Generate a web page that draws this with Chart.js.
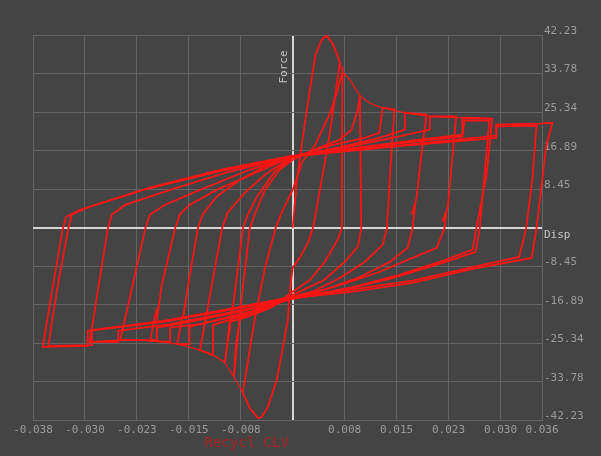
<!DOCTYPE html>
<html>
<head>
<meta charset="utf-8">
<script src="https://cdn.jsdelivr.net/npm/chart.js@4/dist/chart.umd.min.js"></script>
<style>
  html, body { margin: 0; padding: 0; background: #444444; }
  #wrap { position: relative; width: 601px; height: 456px; }
</style>
</head>
<body>
<div id="wrap"><canvas id="c" width="601" height="456"></canvas></div>
<script>
// Axis ticks (displacement on x, force on y)
const dispTicks = [-0.0375, -0.03, -0.0225, -0.015, -0.0075, 0, 0.0075, 0.015, 0.0225, 0.03, 0.036];
const dispTickLabels = ['-0.038', '-0.030', '-0.023', '-0.015', '-0.008', '', '0.008', '0.015', '0.023', '0.030', '0.036'];
const forceTicks = [-42.23, -33.784, -25.338, -16.892, -8.446, 0, 8.446, 16.892, 25.338, 33.784, 42.23];
const forceTickLabels = ['-42.23', '-33.78', '-25.34', '-16.89', '-8.45', '', '8.45', '16.89', '25.34', '33.78', '42.23'];

// Hysteresis loops, one cycle each: displacement / force
const dispA = [0, 0.0006, 0.0014, 0.0025, 0.0033, 0.0042, 0.0049, 0.0058, 0.0063, 0.0068, 0.0053, 0.0040, 0.0029, 0.0022, 0.0010, 0, -0.0004, -0.0007, -0.0014, -0.0023, -0.0036, -0.0045, -0.0050, -0.0056, -0.0062, -0.0072, -0.0055, -0.0040, -0.0025, -0.0016, -0.0007, 0];
const forceA = [0, 10.3, 19.3, 30.3, 38.0, 41.2, 42.1, 40.2, 38.4, 36.2, 20.0, 8.8, -0.2, -3.3, -6.6, -8.8, -13.6, -20.2, -26.1, -33.3, -39.3, -41.5, -41.7, -40.6, -39.5, -36.2, -20.2, -8.8, -0.2, 3.3, 6.1, 8.3];

const dispB = [0, 0.0014, 0.0032, 0.0053, 0.0063, 0.0072, 0.0071, 0.0071, 0.0065, 0.0046, 0.0025, 0, -0.0026, -0.0076, -0.0082, -0.0085, -0.0074, -0.0062, -0.0055, -0.0040, -0.0019, 0];
const forceB = [8.3, 14.5, 18.0, 24.8, 29.2, 34.2, 17.1, -0.2, -2.6, -7.5, -11.4, -14.0, -16.9, -19.7, -25.7, -32.7, -15.8, -0.2, 2.9, 8.3, 12.7, 14.9];

const dispC = [0, 0.0039, 0.0068, 0.0085, 0.0094, 0.0097, 0.0098, 0.0099, 0.0094, 0.0075, 0.0046, 0, -0.0033, -0.0069, -0.0091, -0.0094, -0.0098, -0.0085, -0.0072, -0.0065, -0.0050, -0.0026, 0];
const forceC = [14.9, 17.6, 19.3, 21.5, 25.9, 29.0, 14.9, -0.2, -4.2, -7.5, -11.4, -14.7, -17.6, -19.7, -20.6, -24.6, -29.6, -15.8, -0.2, 2.9, 7.2, 12.3, 15.4];

const dispD = [0, 0.0053, 0.0104, 0.0125, 0.0130, 0.0147, 0.0141, 0.0136, 0.0130, 0.0104, 0.0068, 0.0029, 0, -0.0048, -0.0091, -0.0115, -0.0115, -0.0134, -0.0118, -0.0102, -0.0094, -0.0069, -0.0040, 0];
const forceD = [15.4, 18.0, 19.7, 20.8, 26.3, 25.9, 12.7, -0.2, -3.7, -7.5, -11.0, -14.0, -15.1, -18.0, -20.2, -21.3, -27.9, -26.8, -13.6, -0.2, 3.3, 7.7, 11.6, 15.6];

const dispE = [0, 0.0068, 0.0125, 0.0162, 0.0162, 0.0193, 0.0185, 0.0179, 0.0172, 0.0177, 0.0173, 0.0166, 0.0140, 0.0097, 0.0053, 0, -0.0062, -0.0120, -0.0149, -0.0149, -0.0167, -0.0160, -0.0155, -0.0158, -0.0151, -0.0137, -0.0130, -0.0110, -0.0076, -0.0040, 0];
const forceE = [15.6, 17.6, 19.7, 21.5, 25.2, 24.8, 14.9, 6.6, 2.9, 5.5, -0.2, -4.4, -7.5, -10.8, -13.2, -15.4, -18.4, -20.6, -21.7, -25.5, -25.5, -20.4, -16.9, -19.5, -12.5, -0.2, 2.9, 6.8, 10.5, 13.4, 15.6];

const dispF = [0, 0.0082, 0.0154, 0.0198, 0.0198, 0.0236, 0.0229, 0.0224, 0.0216, 0.0222, 0.0219, 0.0208, 0.0173, 0.0125, 0.0078, 0.0029, 0, -0.0069, -0.0134, -0.0177, -0.0177, -0.0206, -0.0199, -0.0194, -0.0197, -0.0189, -0.0170, -0.0163, -0.0149, -0.0110, -0.0043, 0];
const forceF = [15.6, 17.8, 20.0, 21.5, 24.4, 24.4, 12.7, 4.6, 1.3, 3.5, -0.2, -4.4, -6.6, -9.7, -12.1, -14.3, -15.4, -18.9, -21.1, -21.9, -25.0, -24.8, -19.3, -17.3, -20.9, -12.5, -0.2, 2.9, 5.0, 8.3, 12.7, 15.6];

const dispG = [0, 0.0097, 0.0183, 0.0245, 0.0245, 0.0288, 0.0280, 0.0265, 0.0260, 0.0212, 0.0154, 0.0082, 0, -0.0076, -0.0149, -0.0196, -0.0196, -0.0249, -0.0231, -0.0213, -0.0206, -0.0185, -0.0134, -0.0062, 0];
const forceG = [15.6, 17.6, 19.3, 20.4, 24.1, 23.9, 11.6, -0.2, -4.8, -7.5, -10.3, -13.2, -15.4, -18.4, -20.6, -21.9, -24.6, -24.6, -12.5, -0.2, 2.9, 5.0, 8.3, 12.7, 15.6];

const dispG2 = [0, 0.0125, 0.0245, 0.0248, 0.0284, 0.0277, 0.0270, 0.0264, 0.0212, 0.0140, 0.0068, 0, -0.0091, -0.0177, -0.0252, -0.0252, -0.0293, -0.0280, -0.0267, -0.0261, -0.0242, -0.0177, -0.0091, 0];
const forceG2 = [15.6, 18.0, 20.0, 23.5, 23.5, 11.6, -0.2, -5.3, -7.9, -11.2, -13.8, -15.6, -18.6, -21.1, -22.6, -25.0, -25.0, -12.5, -0.2, 2.9, 5.0, 8.3, 12.3, 15.6];

const dispH = [0, 0.0144, 0.0294, 0.0294, 0.0356, 0.0375, 0.0366, 0.0352, 0.0345, 0.0260, 0.0173, 0.0087, 0, -0.0091, -0.0187, -0.0296, -0.0296, -0.0361, -0.0346, -0.0332, -0.0327, -0.0307, -0.0216, -0.0108, 0];
const forceH = [15.6, 17.8, 19.7, 22.6, 22.8, 23.0, 17.8, -0.2, -6.6, -9.0, -12.1, -14.0, -15.4, -18.0, -20.6, -22.6, -25.9, -26.1, -12.5, -0.2, 2.4, 3.9, 8.3, 12.3, 15.6];

const dispI = [0, 0.0154, 0.0294, 0.0294, 0.0352, 0.0346, 0.0337, 0.0327, 0.0255, 0.0173, 0.0082, 0, -0.0091, -0.0187, -0.0290, -0.0290, -0.0353, -0.0339, -0.0324, -0.0319, -0.0293, -0.0206, -0.0105, 0];
const forceI = [15.8, 18.0, 20.2, 22.2, 22.4, 10.5, -0.2, -6.4, -8.8, -11.6, -13.6, -15.1, -17.8, -20.4, -22.4, -25.7, -25.9, -12.5, -0.2, 2.9, 4.6, 8.8, 12.7, 15.8];

// Peak-force envelopes traced by the first excursions on each side
const dispUpperEnv = [0.0049, 0.0058, 0.0063, 0.0068, 0.0072, 0.0082, 0.0097, 0.0111, 0.0130, 0.0162, 0.0198, 0.0241, 0.0288];
const forceUpperEnv = [42.1, 40.2, 38.4, 36.2, 34.2, 32.5, 29.0, 27.4, 26.3, 25.2, 24.4, 24.1, 23.9];
const dispLowerEnv = [-0.0050, -0.0062, -0.0072, -0.0085, -0.0098, -0.0115, -0.0134, -0.0167, -0.0206, -0.0249, -0.0293];
const forceLowerEnv = [-41.7, -39.5, -36.2, -32.7, -29.6, -27.9, -26.8, -25.5, -24.8, -24.6, -25.0];

const loops = [
  [dispA, forceA], [dispB, forceB], [dispC, forceC], [dispD, forceD], [dispE, forceE],
  [dispF, forceF], [dispG, forceG], [dispG2, forceG2], [dispH, forceH], [dispI, forceI]
];
const envelopes = [[dispUpperEnv, forceUpperEnv], [dispLowerEnv, forceLowerEnv]];

const LINE_RED = '#ff1414';
const GRID = '#636363';
const AXIS = '#d6d6d6';
const TICK_TEXT = '#9a9a9a';
const MONO = '"DejaVu Sans Mono", "Liberation Mono", monospace';

const toPoints = (d, f) => d.map((v, i) => ({ x: v, y: f[i] }));

const datasets = [
  ...loops.map(([d, f]) => ({
    data: toPoints(d, f),
    showLine: true,
    borderColor: LINE_RED,
    borderWidth: 1.8,
    pointRadius: 0,
    tension: 0,
    fill: false,
    clip: false
  })),
  ...envelopes.map(([d, f]) => ({
    data: toPoints(d, f),
    showLine: true,
    borderColor: LINE_RED,
    borderWidth: 1.2,
    pointRadius: 0,
    tension: 0.15,
    fill: false
  }))
];

const isZero = c => c.tick && c.tick.value === 0;

// Background fill, axis names and the run caption
const decor = {
  id: 'decor',
  beforeDraw(chart) {
    const { ctx, width, height } = chart;
    ctx.save();
    ctx.fillStyle = '#444444';
    ctx.fillRect(0, 0, width, height);
    ctx.restore();
  },
  afterDraw(chart) {
    const { ctx, chartArea, scales } = chart;
    const x0 = scales.x.getPixelForValue(0);
    const y0 = scales.y.getPixelForValue(0);
    ctx.save();
    ctx.font = '11px ' + MONO;
    ctx.fillStyle = '#c4c4c4';
    ctx.textBaseline = 'middle';
    ctx.textAlign = 'left';
    ctx.fillText('Disp', chartArea.right + 2, y0 + 7);
    ctx.translate(x0 - 9, chartArea.top + 32);
    ctx.rotate(-Math.PI / 2);
    ctx.textAlign = 'center';
    ctx.fillText('Force', 0, 0);
    ctx.restore();

    ctx.save();
    ctx.font = '14px ' + MONO;
    ctx.fillStyle = '#ad2222';
    ctx.textAlign = 'center';
    ctx.textBaseline = 'middle';
    ctx.fillText('Recycl CLV', x0 - 46, chartArea.bottom + 23);
    ctx.restore();
  }
};

new Chart(document.getElementById('c'), {
  type: 'scatter',
  data: { datasets },
  plugins: [decor],
  options: {
    responsive: false,
    devicePixelRatio: 1,
    animation: false,
    layout: { padding: { left: 33, top: 35, right: 0, bottom: 0 } },
    plugins: { legend: { display: false }, tooltip: { enabled: false } },
    scales: {
      x: {
        type: 'linear',
        min: -0.0375,
        max: 0.036,
        afterBuildTicks: s => { s.ticks = dispTicks.map(v => ({ value: v })); },
        afterFit: s => { s.height = 35.5; },
        border: { display: false },
        grid: {
          drawTicks: false,
          color: c => isZero(c) ? AXIS : GRID,
          lineWidth: c => isZero(c) ? 2 : 1
        },
        ticks: {
          padding: 3,
          color: TICK_TEXT,
          font: { family: MONO, size: 11 },
          maxRotation: 0,
          autoSkip: false,
          callback: (v, i) => dispTickLabels[i]
        }
      },
      y: {
        type: 'linear',
        position: 'right',
        min: -42.23,
        max: 42.23,
        afterBuildTicks: s => { s.ticks = forceTicks.map(v => ({ value: v })); },
        afterFit: s => { s.width = 59; },
        border: { display: false },
        grid: {
          drawTicks: false,
          color: c => isZero(c) ? AXIS : GRID,
          lineWidth: c => isZero(c) ? 2 : 1
        },
        ticks: {
          padding: 2,
          labelOffset: -4,
          color: TICK_TEXT,
          font: { family: MONO, size: 11 },
          autoSkip: false,
          callback: (v, i) => forceTickLabels[i]
        }
      }
    }
  }
});
</script>
</body>
</html>
